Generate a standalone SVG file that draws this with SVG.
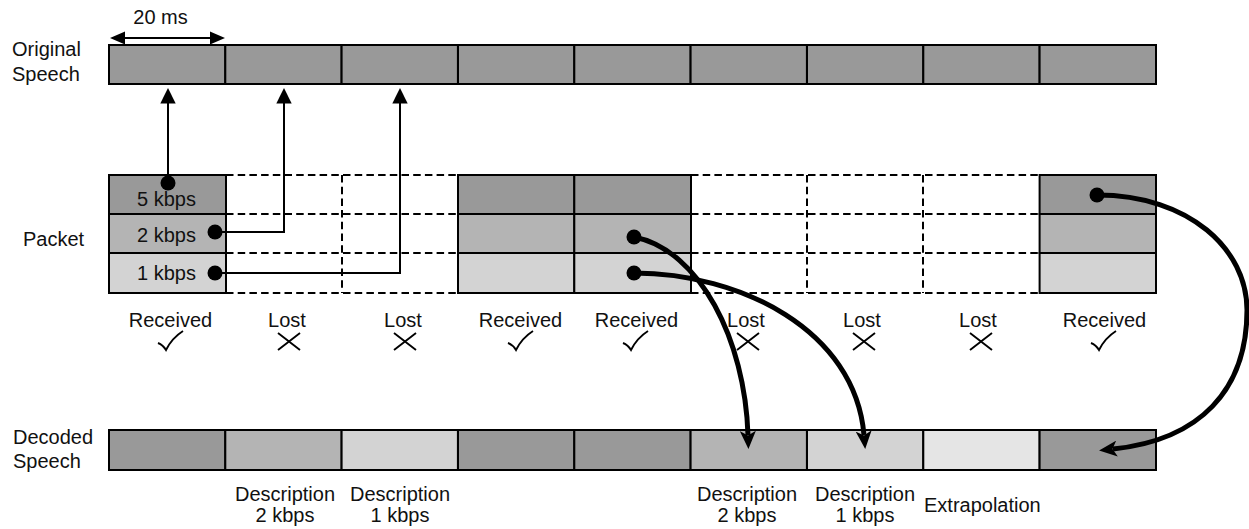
<svg xmlns="http://www.w3.org/2000/svg" width="1249" height="529" viewBox="0 0 1249 529">
<style>
text{font-family:"Liberation Sans",Arial,Helvetica,sans-serif;font-size:20px;fill:#111}
.m{text-anchor:middle}
.cell{stroke:#000;stroke-width:2}
.d{fill:#999999}.b{fill:#b4b4b4}.l{fill:#d3d3d3}.x{fill:#e5e5e5}
.dash{stroke:#000;stroke-width:2;stroke-dasharray:7.5 4.2;fill:none}
.thin{stroke:#000;stroke-width:2;fill:none}
.thick{stroke:#000;stroke-width:5;fill:none}
.mark{stroke:#000;stroke-width:1.9;fill:none}
</style>
<defs>
<marker id="up" markerUnits="userSpaceOnUse" viewBox="0 0 16 16" refX="0.5" refY="8" markerWidth="16" markerHeight="16" orient="auto"><path d="M0,0.3 L15.5,8 L0,15.7 z" fill="#000"/></marker>
<marker id="big" markerUnits="userSpaceOnUse" viewBox="0 0 18 16" refX="4" refY="8" markerWidth="18" markerHeight="16" orient="auto"><path d="M0,0 L18,8 L0,16 L4.5,8 z" fill="#000"/></marker>
</defs>

<g id="dimension">
<text class="m" x="160.5" y="24">20 ms</text>
<line x1="124" y1="38" x2="211" y2="38" class="thin"/>
<path d="M110,38 L125,31.5 L125,44.5 z" fill="#000"/>
<path d="M225,38 L210,31.5 L210,44.5 z" fill="#000"/>
</g>

<g id="labels">
<text x="12" y="56">Original</text>
<text x="12" y="81">Speech</text>
<text x="23" y="246">Packet</text>
<text x="13" y="444">Decoded</text>
<text x="13" y="468">Speech</text>
</g>

<g id="original-speech">
<rect class="cell d" x="109" y="45" width="116.3" height="39"/>
<rect class="cell d" x="225.3" y="45" width="116.3" height="39"/>
<rect class="cell d" x="341.6" y="45" width="116.3" height="39"/>
<rect class="cell d" x="458" y="45" width="116.3" height="39"/>
<rect class="cell d" x="574.3" y="45" width="116.3" height="39"/>
<rect class="cell d" x="690.6" y="45" width="116.3" height="39"/>
<rect class="cell d" x="807" y="45" width="116.3" height="39"/>
<rect class="cell d" x="923.3" y="45" width="116.3" height="39"/>
<rect class="cell d" x="1039.6" y="45" width="116.4" height="39"/>
</g>

<g id="packet-lost">
<path class="dash" d="M226,175 H458 M226,214 H458 M226,253 H458 M226,293 H458 M342,175 V293"/>
<path class="dash" d="M691,175 H1039 M691,214 H1039 M691,253 H1039 M691,293 H1039 M807,175 V293 M923,175 V293"/>
</g>

<g id="packet-1">
<rect class="cell d" x="109" y="175" width="117" height="39"/>
<rect class="cell b" x="109" y="214" width="117" height="39"/>
<rect class="cell l" x="109" y="253" width="117" height="40"/>
<text x="137" y="206">5 kbps</text>
<text x="137" y="242">2 kbps</text>
<text x="137" y="280">1 kbps</text>
</g>
<g id="packet-4">
<rect class="cell d" x="458" y="175" width="116.3" height="39"/>
<rect class="cell b" x="458" y="214" width="116.3" height="39"/>
<rect class="cell l" x="458" y="253" width="116.3" height="40"/>
</g>
<g id="packet-5">
<rect class="cell d" x="574.3" y="175" width="116.7" height="39"/>
<rect class="cell b" x="574.3" y="214" width="116.7" height="39"/>
<rect class="cell l" x="574.3" y="253" width="116.7" height="40"/>
</g>
<g id="packet-9">
<rect class="cell d" x="1039.6" y="175" width="116.4" height="39"/>
<rect class="cell b" x="1039.6" y="214" width="116.4" height="39"/>
<rect class="cell l" x="1039.6" y="253" width="116.4" height="40"/>
</g>

<g id="status">
<text class="m" x="170.5" y="327">Received</text>
<text class="m" x="287" y="327">Lost</text>
<text class="m" x="403" y="327">Lost</text>
<text class="m" x="520.5" y="327">Received</text>
<text class="m" x="636.5" y="327">Received</text>
<text class="m" x="746" y="327">Lost</text>
<text class="m" x="862" y="327">Lost</text>
<text class="m" x="978" y="327">Lost</text>
<text class="m" x="1104.5" y="327">Received</text>
<path class="mark" d="M158,343 Q163,345 166,350 Q172,338 183,331"/>
<path class="mark" d="M508,343 Q513,345 516,350 Q522,338 533,331"/>
<path class="mark" d="M623,343 Q628,345 631,350 Q637,338 648,331"/>
<path class="mark" d="M1091,343 Q1096,345 1099,350 Q1105,338 1116,331"/>
<path class="mark" d="M278,333 L300,350 M300,333 L278,350"/>
<path class="mark" d="M394,333 L416,350 M416,333 L394,350"/>
<path class="mark" d="M737,333 L759,350 M759,333 L737,350"/>
<path class="mark" d="M853,333 L875,350 M875,333 L853,350"/>
<path class="mark" d="M970,333 L992,350 M992,333 L970,350"/>
</g>

<g id="decoded-speech">
<rect class="cell d" x="109" y="430" width="116.3" height="40"/>
<rect class="cell b" x="225.3" y="430" width="116.3" height="40"/>
<rect class="cell l" x="341.6" y="430" width="116.3" height="40"/>
<rect class="cell d" x="458" y="430" width="116.3" height="40"/>
<rect class="cell d" x="574.3" y="430" width="116.3" height="40"/>
<rect class="cell b" x="690.6" y="430" width="116.3" height="40"/>
<rect class="cell l" x="807" y="430" width="116.3" height="40"/>
<rect class="cell x" x="923.3" y="430" width="116.3" height="40"/>
<rect class="cell d" x="1039.6" y="430" width="116.4" height="40"/>
<text class="m" x="285" y="501">Description</text>
<text class="m" x="285" y="522">2 kbps</text>
<text class="m" x="400" y="501">Description</text>
<text class="m" x="400" y="522">1 kbps</text>
<text class="m" x="747" y="501">Description</text>
<text class="m" x="747" y="522">2 kbps</text>
<text class="m" x="865" y="501">Description</text>
<text class="m" x="865" y="522">1 kbps</text>
<text x="924" y="512">Extrapolation</text>
</g>

<g id="connectors">
<path class="thin" d="M168,183 V103" marker-end="url(#up)"/>
<path class="thin" d="M215,232 H284 V103" marker-end="url(#up)"/>
<path class="thin" d="M215,273 H400 V103" marker-end="url(#up)"/>
<circle cx="168" cy="183" r="7.5"/>
<circle cx="215" cy="232" r="7.5"/>
<circle cx="215" cy="273" r="7.5"/>
<path class="thick" d="M634,237 C700,250 745,340 748,435" marker-end="url(#big)"/>
<path class="thick" d="M634,273 C740,273 855,330 864,435" marker-end="url(#big)"/>
<path class="thick" d="M1097,195 C1190,195 1247,250 1247,310 C1247,390 1200,440 1113,449" marker-end="url(#big)"/>
<circle cx="634" cy="237" r="7.5"/>
<circle cx="634" cy="273" r="7.5"/>
<circle cx="1097" cy="195" r="7.5"/>
</g>
</svg>
